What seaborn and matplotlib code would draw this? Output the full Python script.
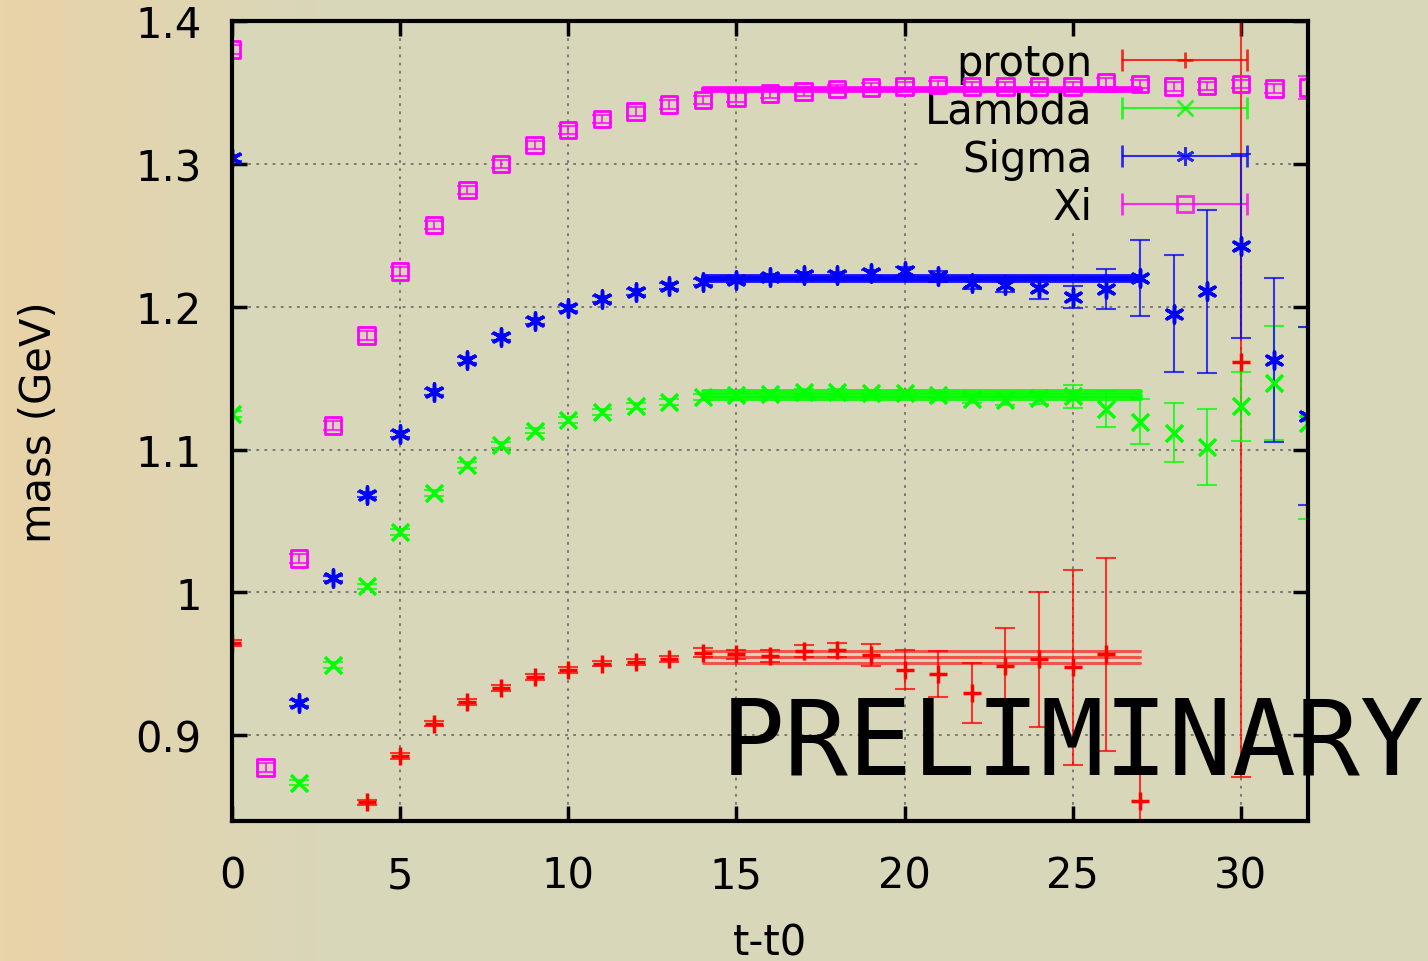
import numpy as np
import pandas as pd
import seaborn as sns
import matplotlib
matplotlib.use("Agg")
from matplotlib import pyplot as plt
from matplotlib.container import ErrorbarContainer
from matplotlib.legend_handler import HandlerErrorbar

sns.set_style("ticks")
plt.rcParams['font.family'] = ['DejaVu Sans']
plt.rcParams['text.color'] = 'black'
plt.rcParams['axes.labelcolor'] = 'black'
plt.rcParams['xtick.color'] = 'black'
plt.rcParams['ytick.color'] = 'black'

nan = np.nan
t = list(range(33))

proton = [0.9646, nan, nan, nan, 0.853, 0.8856, 0.9082, 0.9234, 0.9333, 0.9408, 0.9457,
          0.9502, 0.9515, 0.9536, 0.9578, 0.9567, 0.9555, 0.959, 0.9597, 0.9562, 0.946,
          0.943, 0.9294, 0.9483, 0.9531, 0.9475, 0.9567, 0.854, nan, nan, 1.161, nan, nan]
proton_err = [0.002, 0, 0, 0, 0.002, 0.002, 0.002, 0.002, 0.002, 0.002, 0.002,
              0.002, 0.002, 0.002, 0.003, 0.003, 0.004, 0.004, 0.0048, 0.0075, 0.0134,
              0.016, 0.021, 0.027, 0.0474, 0.068, 0.0675, 0.069, 0, 0, 0.29, 0, 0]

lam = [1.125, nan, 0.8669, 0.9492, 1.0042, 1.0422, 1.0697, 1.0891, 1.1031, 1.1133, 1.1206,
       1.1264, 1.1303, 1.1334, 1.1366, 1.1385, 1.1392, 1.1403, 1.1406, 1.1399, 1.1394,
       1.138, 1.1355, 1.1345, 1.1362, 1.1373, 1.1285, 1.1194, 1.1117, 1.1017, 1.1303, 1.1467, 1.1187]
lam_err = [0.002, 0, 0.002, 0.002, 0.002, 0.002, 0.002, 0.002, 0.002, 0.002, 0.002,
           0.002, 0.002, 0.002, 0.002, 0.002, 0.002, 0.002, 0.002, 0.002, 0.002,
           0.002, 0.003, 0.003, 0.004, 0.0082, 0.0128, 0.0157, 0.0207, 0.0268, 0.0243, 0.040, 0.067]

sigma = [1.304, nan, 0.9224, 1.0098, 1.0685, 1.111, 1.1403, 1.1625, 1.1786, 1.1902, 1.1989,
         1.2056, 1.2103, 1.2143, 1.2171, 1.2189, 1.2206, 1.2224, 1.222, 1.2236, 1.2248,
         1.2213, 1.2166, 1.215, 1.2131, 1.2068, 1.2126, 1.2201, 1.1951, 1.2108, 1.2424, 1.1625, 1.1234]
sigma_err = [0.002, 0, 0.002, 0.002, 0.002, 0.002, 0.002, 0.002, 0.002, 0.002, 0.002,
             0.002, 0.002, 0.002, 0.002, 0.002, 0.002, 0.002, 0.002, 0.002, 0.003,
             0.004, 0.004, 0.005, 0.0076, 0.0076, 0.014, 0.0265, 0.041, 0.057, 0.0643, 0.0573, 0.0622]

xi = [1.3802, 0.8774, 1.0236, 1.1168, 1.1797, 1.2248, 1.2573, 1.2818, 1.3, 1.3133, 1.3236,
      1.3313, 1.3367, 1.3417, 1.3448, 1.3466, 1.3492, 1.3506, 1.3524, 1.3536, 1.3541,
      1.3552, 1.3541, 1.3541, 1.3541, 1.3541, 1.3569, 1.356, 1.3541, 1.3545, 1.356, 1.3529, 1.3536]
xi_err = [0.003] * 32 + [0.008]

# plateau fits: t range, central value, error
fit_range = [14, 27]
fit_mass = {"proton": 0.9548, "Lambda": 1.1385, "Sigma": 1.2199, "Xi": 1.3522}
fit_err = {"proton": 0.0042, "Lambda": 0.0023, "Sigma": 0.0015, "Xi": 0.0008}

names = ["proton", "Lambda", "Sigma", "Xi"]
colors = {"proton": "#ff0000", "Lambda": "#00ff00", "Sigma": "#0000ff", "Xi": "#ff00ff"}
markers = {"proton": "+", "Lambda": "x", "Sigma": (6, 2, 0), "Xi": "s"}
fit_lw = {"proton": 2.2, "Lambda": 3.5, "Sigma": 3.5, "Xi": 3.5}
vals = {"proton": (proton, proton_err), "Lambda": (lam, lam_err),
        "Sigma": (sigma, sigma_err), "Xi": (xi, xi_err)}

bg = "#d9d7b9"
fig = plt.figure(figsize=(14.28, 9.62), dpi=100)
fig.patch.set_facecolor(bg)

# background gradient (orange at the left edge)
bgax = fig.add_axes([0, 0, 1, 1], zorder=-10)
left = np.array([233, 211, 168]) / 255
right = np.array([217, 215, 185]) / 255
w = np.clip(np.linspace(0, 1, 400) / 0.22, 0, 1)[:, None]
grad = (left * (1 - w) + right * w)[None, :, :]
bgax.imshow(grad, aspect="auto", extent=[0, 1, 0, 1])
bgax.axis("off")

ax = fig.add_axes([232 / 1428, 1 - 822 / 962, 1076 / 1428, 800 / 962])
ax.set_facecolor(bg)
ax.set_axisbelow(True)

for n in names:
    y, e = vals[n]
    df = pd.DataFrame({"t": t, "m": y, "e": e}).dropna()
    mk = markers[n]
    ax.errorbar(df["t"], df["m"], yerr=df["e"], fmt="none", ecolor=colors[n],
                elinewidth=1.5, capsize=7, capthick=1.5, alpha=0.75, zorder=3)
    if n == "Xi":
        sns.scatterplot(x=df["t"], y=df["m"], marker="s", s=140, facecolor="none",
                        edgecolor=colors[n], linewidth=2, ax=ax, zorder=4)
    else:
        sns.scatterplot(x=df["t"], y=df["m"], marker=mk, s=150, color=colors[n],
                        linewidth=2.5, ax=ax, zorder=4)
    # fit band
    fit = pd.DataFrame({"t": fit_range * 3,
                        "m": [fit_mass[n]] * 2 + [fit_mass[n] + fit_err[n]] * 2
                             + [fit_mass[n] - fit_err[n]] * 2,
                        "g": [0, 0, 1, 1, 2, 2]})
    sns.lineplot(data=fit, x="t", y="m", units="g", estimator=None, color=colors[n],
                 lw=fit_lw[n], alpha=0.6 if n == "proton" else 0.9, ax=ax, zorder=3)
    # dummy for legend sample
    ax.errorbar([nan], [nan], xerr=[1], fmt="o", marker=mk,
                color=colors[n], mfc="none" if n == "Xi" else colors[n],
                ms=13 if n == "Sigma" else 11, mew=2, elinewidth=1.5, capsize=8,
                capthick=1.5, alpha=0.8, label=n)

ax.set_xlim(0, 32)
ax.set_ylim(0.84, 1.4)
ax.set_xticks(range(0, 31, 5))
ax.set_yticks([0.9, 1.0, 1.1, 1.2, 1.3, 1.4])
ax.yaxis.set_major_formatter(matplotlib.ticker.FormatStrFormatter("%g"))
ax.tick_params(direction="in", length=11, width=2.5, labelsize=30, top=True, right=True,
               color="black", labelcolor="black")
ax.tick_params(axis="y", pad=22)
ax.tick_params(axis="x", pad=24)
ax.grid(True, color="#707070", linestyle=(0, (1.5, 3)), linewidth=1.3)
for s in ax.spines.values():
    s.set_linewidth(3)
    s.set_color("black")
    s.set_zorder(5)

ax.set_xlabel("t-t0", fontsize=30, labelpad=18)
ax.set_ylabel("mass (GeV)", fontsize=30, labelpad=54)

leg = ax.legend(loc="upper right", bbox_to_anchor=(1040 / 1076, 1.005), markerfirst=False,
                fontsize=30, numpoints=1, handlelength=3.0, handletextpad=0.7,
                labelspacing=0.14, borderpad=0.1, frameon=True, facecolor=bg,
                edgecolor="none", framealpha=1, fancybox=False,
                handler_map={ErrorbarContainer: HandlerErrorbar(xerr_size=1.5)})
leg.set_zorder(1)

fig.text(721 / 1428, 1 - 775 / 962, "PRELIMINARY", family="DejaVu Sans Mono",
         fontsize=76.5, va="baseline", ha="left", color="black", zorder=20)

fig.savefig("out.png", dpi=100, facecolor=fig.get_facecolor())
